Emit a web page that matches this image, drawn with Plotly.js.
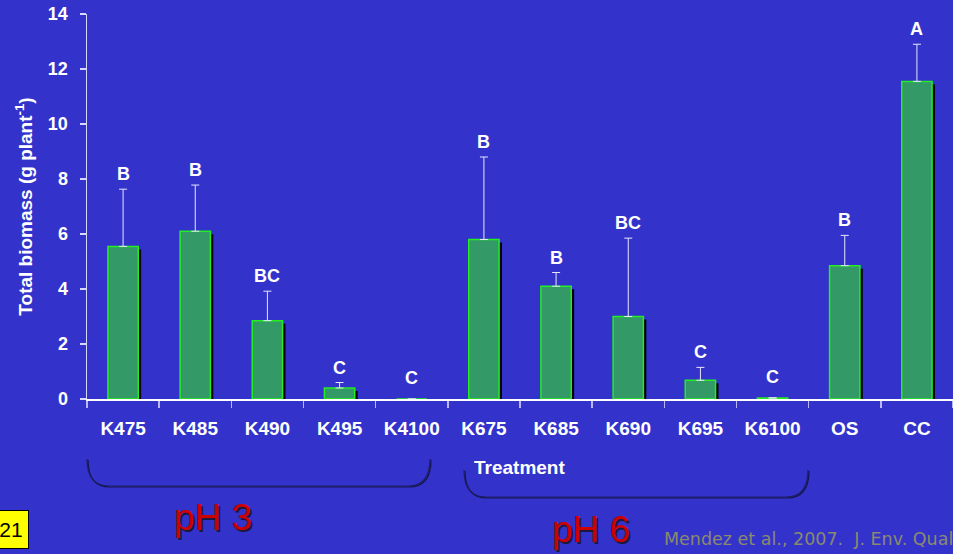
<!DOCTYPE html>
<html>
<head>
<meta charset="utf-8">
<script src="https://cdn.plot.ly/plotly-3.0.1.min.js"></script>
<style>html,body{margin:0;padding:0;background:#3333cc;overflow:hidden;}</style>
</head>
<body>
<div id="chart" style="width:953px;height:554px;"></div>
<script>
const categories = ["K475","K485","K490","K495","K4100","K675","K685","K690","K695","K6100","OS","CC"];
const biomass    = [5.55, 6.1, 2.85, 0.4, 0.0, 5.8, 4.1, 3.0, 0.68, 0.04, 4.85, 11.55];
const errUpper   = [2.08, 1.68, 1.07, 0.2, 0.0, 3.0, 0.5, 2.85, 0.47, 0.0, 1.1, 1.35];
const letters    = ["B","B","BC","C","C","B","B","BC","C","C","B","A"];

const errTop = biomass.map((v,i)=>v+errUpper[i]);

const shadow = {
  type:'bar', x:categories, y:biomass, base:-0.11,
  width:0.42, offset:-0.17,
  marker:{color:'#000000', line:{width:0}},
  hoverinfo:'skip', showlegend:false
};
const bars = {
  type:'bar', x:categories, y:biomass,
  width:0.42, offset:-0.21,
  marker:{color:'#339966', line:{color:'#22ee22', width:1.5}},
  error_y:{type:'data', array:errUpper, arrayminus:errUpper.map(()=>0), symmetric:false,
           color:'#e6e6ff', thickness:1, width:4},
  showlegend:false
};

const FONT = 'Liberation Sans, Arial, sans-serif';
const annotations = letters.map((t,i)=>({
  x:categories[i], y:errTop[i], xref:'x', yref:'y', text:'<b>'+t+'</b>',
  showarrow:false, yanchor:'bottom', yshift:(errUpper[i]===0?9:3),
  font:{family:FONT, size:18, color:'#ffffff'}
}));

function px(x){return (x-87)/866;}
function py(y){return (399-y)/385;}

annotations.push(
  {xref:'paper', yref:'paper', x:px(519), y:py(467), text:'<b>Treatment</b>',
   showarrow:false, xanchor:'center', yanchor:'middle',
   font:{family:FONT, size:19, color:'#ffffff'}},
  {xref:'paper', yref:'paper', x:px(213), y:py(517), text:'pH 3',
   showarrow:false, xanchor:'center', yanchor:'middle',
   font:{family:FONT, size:37, color:'#cc0000', shadow:'2px 2px 0px #1a1a40'}},
  {xref:'paper', yref:'paper', x:px(591), y:py(529), text:'pH 6',
   showarrow:false, xanchor:'center', yanchor:'middle',
   font:{family:FONT, size:37, color:'#cc0000', shadow:'2px 2px 0px #1a1a40'}},
  {xref:'paper', yref:'paper', x:px(662), y:py(539), text:'Mendez et al., 2007.  J. Env. Qual.',
   showarrow:false, xanchor:'left', yanchor:'middle',
   font:{family:'DejaVu Sans', size:17.5, color:'#8a8a6e'}},
  {xref:'paper', yref:'paper', x:px(29), y:py(529), text:'21',
   showarrow:false, xanchor:'right', yanchor:'middle', bgcolor:'#ffff00', bordercolor:'#000000',
   borderwidth:1, borderpad:0, width:34, height:37, align:'center',
   font:{family:FONT, size:21, color:'#000000'}}
);

const shapes = [];
[[87,430,459,486],[464,808,470,497]].forEach(b=>{
  const path = (xo,yo)=>{
    const pts = [[b[0]+xo,b[2]+yo],[b[0]+xo,b[3]+yo],[b[0]+22+xo,b[3]+yo],[b[1]-22+xo,b[3]+yo],[b[1]+xo,b[3]+yo],[b[1]+xo,b[2]+yo]];
    const p = pts.map(q=>[px(q[0]),py(q[1])]);
    return 'M '+p[0][0]+','+p[0][1]+' Q '+p[1][0]+','+p[1][1]+' '+p[2][0]+','+p[2][1]+
           ' L '+p[3][0]+','+p[3][1]+' Q '+p[4][0]+','+p[4][1]+' '+p[5][0]+','+p[5][1];
  };
  shapes.push({type:'path', xref:'paper', yref:'paper', path:path(1,1), line:{color:'#14144a', width:1.2}});
  shapes.push({type:'path', xref:'paper', yref:'paper', path:path(0,0), line:{color:'#1e1e60', width:1.2}});
});

const layout = {
  width:953, height:554,
  margin:{l:87, r:0, t:14, b:155},
  paper_bgcolor:'#3333cc', plot_bgcolor:'#3333cc',
  xaxis:{type:'category', showline:true, linecolor:'#ffffff', linewidth:1.5,
         ticks:'outside', tickson:'boundaries', ticklen:7, tickcolor:'#b8b8ff', tickwidth:1.5,
         ticklabelstandoff:12,
         showgrid:false, zeroline:false, range:[-0.5,11.5],
         tickfont:{family:FONT, size:19, color:'#ffffff', weight:'bold'}},
  yaxis:{range:[0,14], dtick:2, showline:true, linecolor:'#d8d8ff', linewidth:1.5,
         ticks:'outside', ticklen:6, tickcolor:'#d8d8ff', tickwidth:1.2,
         ticklabelstandoff:8,
         showgrid:false, zeroline:false,
         tickfont:{family:FONT, size:18, color:'#ffffff', weight:'bold'},
         title:{text:'<b>Total biomass (g plant<sup>-1</sup>)</b>', standoff:10,
                font:{family:FONT, size:19, color:'#ffffff'}}},
  annotations:annotations,
  shapes:shapes
};

Plotly.newPlot('chart',[shadow,bars],layout,{displayModeBar:false, staticPlot:true});
</script>
</body>
</html>
